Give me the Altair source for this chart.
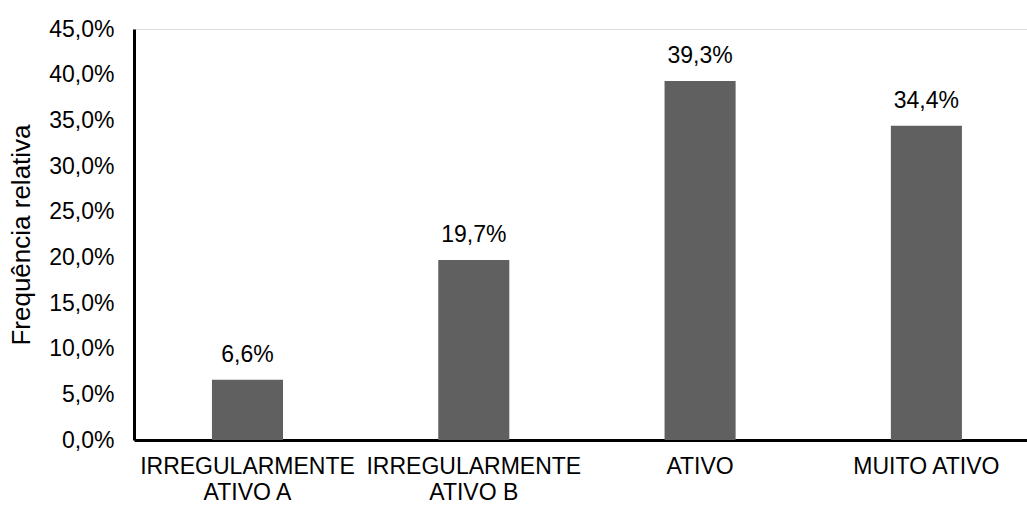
import altair as alt
import pandas as pd

categories = ["IRREGULARMENTE|ATIVO A", "IRREGULARMENTE|ATIVO B", "ATIVO", "MUITO ATIVO"]
values = [6.6, 19.7, 39.3, 34.4]
labels = ["6,6%", "19,7%", "39,3%", "34,4%"]
y_ticks = [0, 5, 10, 15, 20, 25, 30, 35, 40, 45]

df = pd.DataFrame({"cat": categories, "val": values, "lab": labels})

FONT = "Liberation Sans"

x_enc = alt.X(
    "cat:N",
    sort=categories,
    title=None,
    scale=alt.Scale(paddingInner=0.686, paddingOuter=0.316, align=0.545),
    axis=alt.Axis(
        labelExpr="split(datum.label, '|')",
        labelAngle=0,
        labelFont=FONT,
        labelFontSize=23,
        labelColor="#000000",
        labelLineHeight=26,
        labelPadding=15,
        labelLimit=400,
        labelOverlap=False,
        ticks=False,
        domainColor="#000000",
        domainWidth=3,
    ),
)

y_enc = alt.Y(
    "val:Q",
    title="Frequência relativa",
    scale=alt.Scale(domain=[0, 45], nice=False, zero=True),
    axis=alt.Axis(
        values=y_ticks,
        labelExpr="replace(format(datum.value, '.1f'), '.', ',') + '%'",
        labelFont=FONT,
        labelFontSize=23,
        labelColor="#000000",
        labelPadding=20,
        ticks=False,
        grid=False,
        domainColor="#000000",
        domainWidth=3,
        titleFont=FONT,
        titleFontSize=26,
        titleFontWeight="normal",
        titleColor="#000000",
        titlePadding=14,
    ),
)

bars = alt.Chart(df).mark_bar(color="#606060").encode(x=x_enc, y=y_enc)

text = alt.Chart(df).mark_text(
    font=FONT, fontSize=23, color="#000000", dy=-25, baseline="middle"
).encode(x=alt.X("cat:N", sort=categories), y="val:Q", text="lab:N")

chart = (
    alt.layer(bars, text)
    .properties(
        width=893,
        height=411,
        autosize=alt.AutoSizeParams(type="none"),
        padding={"left": 134, "top": 29, "right": 0, "bottom": 66},
    )
    .configure_view(stroke=None)
    .configure(background="#ffffff")
)

chart.save("out.html", embed_options={"renderer": "svg", "actions": False})
